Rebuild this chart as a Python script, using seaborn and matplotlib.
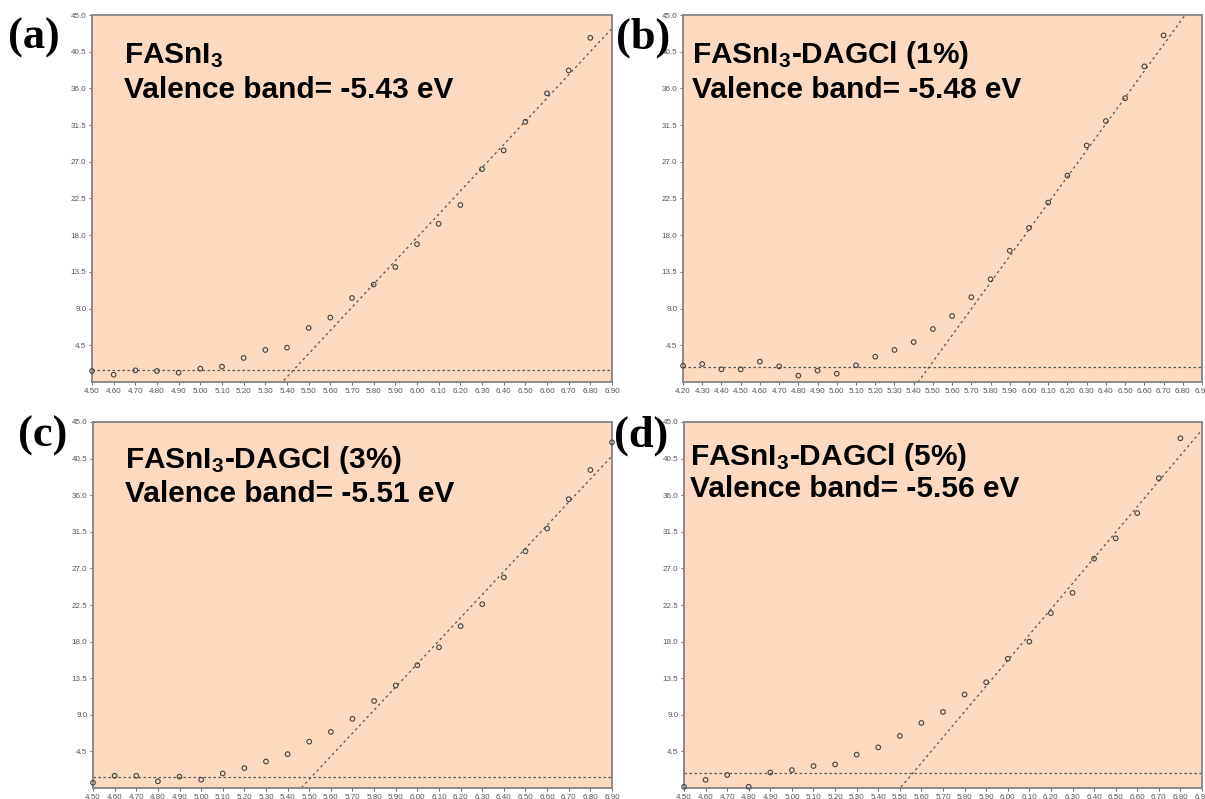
import numpy as np
import matplotlib
matplotlib.use("Agg")
import matplotlib.pyplot as plt
import seaborn as sns
import pandas as pd

# ---------------- data ----------------
energy_a = [4.50, 4.60, 4.70, 4.80, 4.90, 5.00, 5.10, 5.20, 5.30, 5.40, 5.50, 5.60,
            5.70, 5.80, 5.90, 6.00, 6.10, 6.20, 6.30, 6.40, 6.50, 6.60, 6.70, 6.80]
signal_a = [1.35, 0.90, 1.43, 1.35, 1.15, 1.64, 1.88, 2.95, 3.93, 4.21, 6.63, 7.90,
            10.3, 11.95, 14.1, 16.9, 19.4, 21.7, 26.1, 28.4, 31.9, 35.4, 38.2, 42.2]

energy_b = [4.20, 4.30, 4.40, 4.50, 4.60, 4.70, 4.80, 4.90, 5.00, 5.10, 5.20, 5.30, 5.40,
            5.50, 5.60, 5.70, 5.80, 5.90, 6.00, 6.10, 6.20, 6.30, 6.40, 6.50, 6.60, 6.70]
signal_b = [2.0, 2.2, 1.55, 1.55, 2.5, 1.92, 0.78, 1.39, 1.02, 2.05, 3.1, 3.93, 4.9,
            6.5, 8.1, 10.4, 12.6, 16.1, 18.9, 22.0, 25.3, 29.0, 32.0, 34.8, 38.7, 42.5]

energy_c = [4.50, 4.60, 4.70, 4.80, 4.90, 5.00, 5.10, 5.20, 5.30, 5.40, 5.50, 5.60, 5.70,
            5.80, 5.90, 6.00, 6.10, 6.20, 6.30, 6.40, 6.50, 6.60, 6.70, 6.80, 6.90]
signal_c = [0.65, 1.5, 1.5, 0.82, 1.39, 1.02, 1.79, 2.45, 3.26, 4.16, 5.7, 6.9, 8.5,
            10.7, 12.6, 15.1, 17.3, 19.9, 22.6, 25.9, 29.1, 31.9, 35.5, 39.1, 42.5]

energy_d = [4.50, 4.60, 4.70, 4.80, 4.90, 5.00, 5.10, 5.20, 5.30, 5.40, 5.50, 5.60,
            5.70, 5.80, 5.90, 6.00, 6.10, 6.20, 6.30, 6.40, 6.50, 6.60, 6.70, 6.80]
signal_d = [0.15, 1.0, 1.6, 0.15, 1.9, 2.2, 2.7, 2.9, 4.1, 5.0, 6.4, 8.0,
            9.35, 11.5, 13.0, 15.9, 18.0, 21.5, 24.0, 28.2, 30.7, 33.8, 38.1, 43.0]

# valence band onset (eV), baseline level, slope of linear fit
onsets = [5.43, 5.48, 5.51, 5.56]
baselines = [1.47, 1.84, 1.35, 1.83]
slopes = [28.5, 32.4, 28.4, 31.5]

panel_letters = ["(a)", "(b)", "(c)", "(d)"]
sample_names = [r"FASnI$_{\mathbf{3}}$",
                r"FASnI$_{\mathbf{3}}$-DAGCl (1%)",
                r"FASnI$_{\mathbf{3}}$-DAGCl (3%)",
                r"FASnI$_{\mathbf{3}}$-DAGCl (5%)"]
vb_labels = ["Valence band= -5.43 eV", "Valence band= -5.48 eV",
             "Valence band= -5.51 eV", "Valence band= -5.56 eV"]

xticks_a = [4.50, 4.60, 4.70, 4.80, 4.90, 5.00, 5.10, 5.20, 5.30, 5.40, 5.50, 5.60, 5.70,
            5.80, 5.90, 6.00, 6.10, 6.20, 6.30, 6.40, 6.50, 6.60, 6.70, 6.80, 6.90]
xticks_b = [4.20, 4.30, 4.40] + xticks_a
yticks = [4.5, 9.0, 13.5, 18.0, 22.5, 27.0, 31.5, 36.0, 40.5, 45.0]
xlims = [(4.50, 6.90), (4.20, 6.90), (4.50, 6.90), (4.50, 6.90)]

energies = [energy_a, energy_b, energy_c, energy_d]
signals = [signal_a, signal_b, signal_c, signal_d]
xtick_sets = [xticks_a, xticks_b, xticks_a, xticks_a]

# ---------------- style ----------------
sns.set_theme(style="white")
plt.rcParams["font.family"] = ["Liberation Sans", "DejaVu Sans"]
plt.rcParams["mathtext.fontset"] = "custom"
plt.rcParams["mathtext.rm"] = "Liberation Sans:bold"
plt.rcParams["mathtext.bf"] = "Liberation Sans:bold"
plt.rcParams["mathtext.it"] = "Liberation Sans:bold"

W, H = 1205, 799
fig = plt.figure(figsize=(W / 100, H / 100), dpi=100)
fig.patch.set_facecolor("white")

# axes boxes in pixels: left, right, top, bottom
boxes = [(92, 612, 15, 382), (683, 1202, 15, 382),
         (93, 612, 422, 788), (684, 1202, 422, 788)]
text_x = [0.061, 0.018, 0.061, 0.011]
line1_y = [0.869, 0.869, 0.874, 0.883]
line2_y = [0.774, 0.774, 0.781, 0.795]
letter_pos = [(8, 49), (616, 49), (18, 447), (614, 447)]

face = "#FDD9BF"
for i in range(4):
    l, r, t, b = boxes[i]
    ax = fig.add_axes([l / W, 1 - b / H, (r - l) / W, (b - t) / H])
    ax.set_facecolor(face)
    df = pd.DataFrame({"E": energies[i], "S": signals[i]})
    x0, x1 = xlims[i]
    # baseline
    ax.axhline(baselines[i], color="#555555", lw=0.9, ls=(0, (2, 2)), zorder=2)
    # linear fit through onset
    fx = np.array([x0, x1])
    fy = baselines[i] + slopes[i] * (fx - onsets[i])
    sns.lineplot(x=fx, y=fy, ax=ax, color="#555555", lw=0.9, zorder=2)
    ax.lines[-1].set_linestyle((0, (2, 2.5)))
    sns.scatterplot(data=df, x="E", y="S", ax=ax, s=11, facecolor="none",
                    edgecolor="#444444", linewidth=0.8, marker="o", zorder=3,
                    clip_on=False)
    ax.set_xlim(x0, x1)
    ax.set_ylim(0, 45)
    ax.set_xticks(xtick_sets[i])
    ax.set_xticklabels([f"{v:.2f}" for v in xtick_sets[i]])
    ax.set_yticks(yticks)
    ax.set_yticklabels([f"{v:.1f}" for v in yticks])
    ax.tick_params(axis="both", labelsize=5.8, colors="#555555", length=2.5,
                   width=0.6, pad=1.5, direction="out", bottom=True, left=True)
    ax.set_xlabel("")
    ax.set_ylabel("")
    for sp in ax.spines.values():
        sp.set_color("#8a8a8a")
        sp.set_linewidth(1.4)
    ax.text(text_x[i], line1_y[i], sample_names[i], transform=ax.transAxes,
            fontsize=21.5, fontweight="bold", color="black", va="baseline", ha="left")
    ax.text(text_x[i], line2_y[i], vb_labels[i], transform=ax.transAxes,
            fontsize=21.5, fontweight="bold", color="black", va="baseline", ha="left")
    lx, ly = letter_pos[i]
    fig.text(lx / W, 1 - ly / H, panel_letters[i], fontsize=32, fontweight="bold",
             family=["Liberation Serif", "DejaVu Serif"], va="baseline", ha="left",
             color="black")

fig.savefig("out.png", dpi=100, facecolor="white")
